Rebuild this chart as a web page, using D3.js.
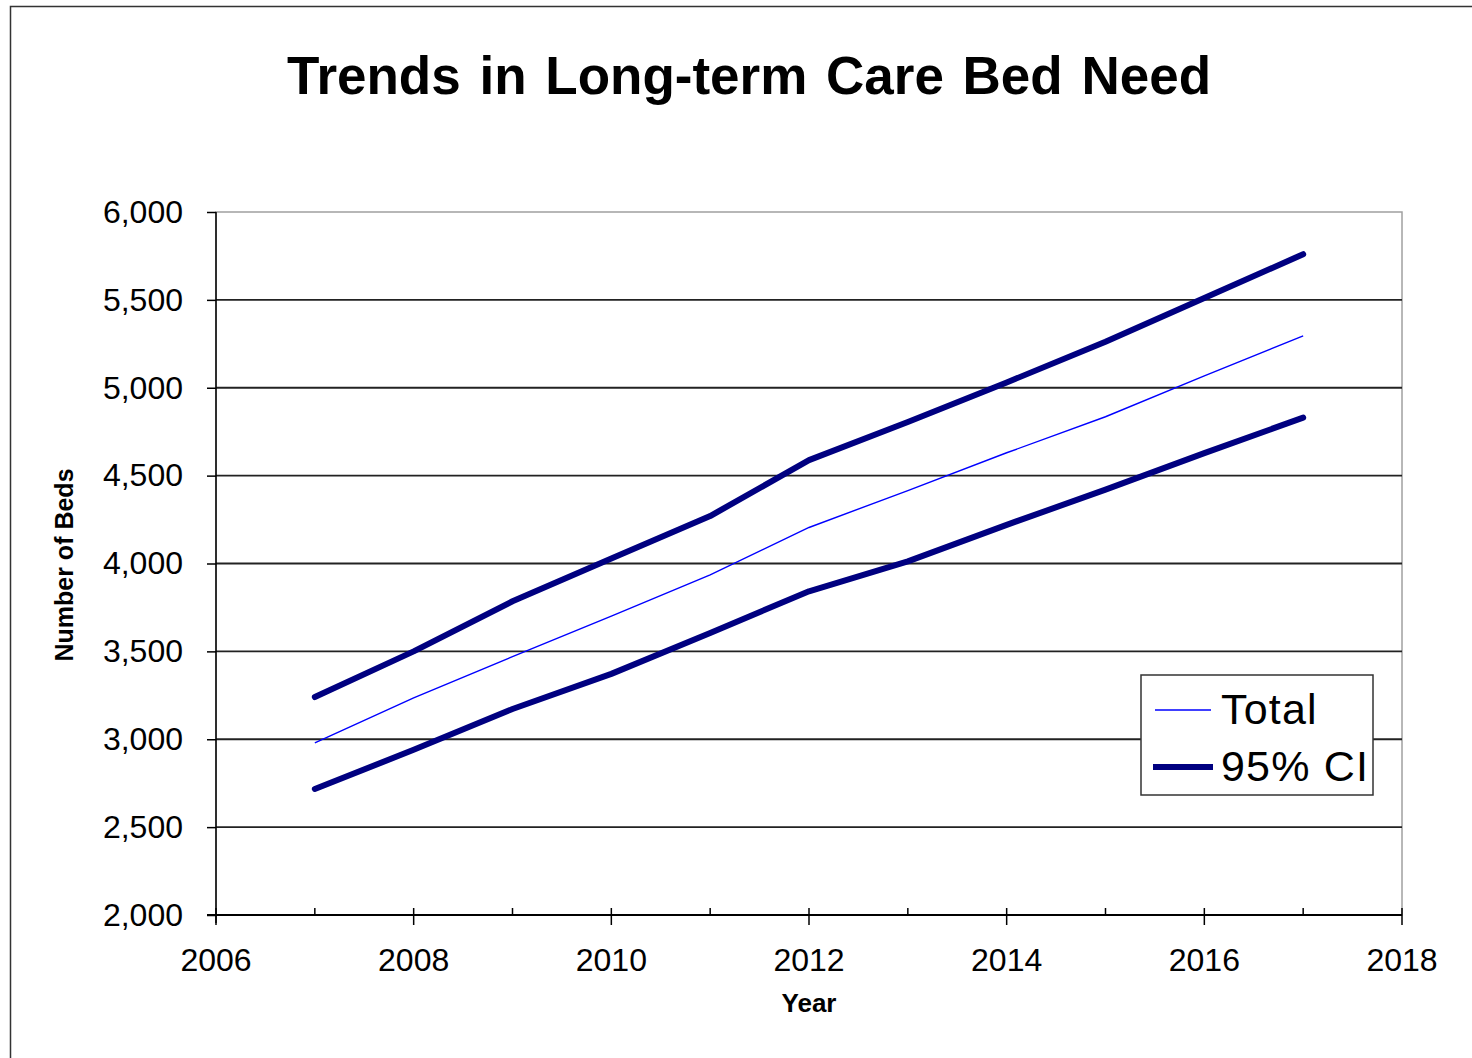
<!DOCTYPE html>
<html>
<head>
<meta charset="utf-8">
<script src="https://cdn.jsdelivr.net/npm/d3@7"></script>
<style>
  body { margin: 0; background: #fff; }
  svg { display: block; font-family: "Liberation Sans", Arial, sans-serif; }
</style>
</head>
<body>
<div id="chart"></div>
<script>
// values
var years = [2007, 2008, 2009, 2010, 2011, 2012, 2013, 2014, 2015, 2016, 2017];
var total = [2980, 3235, 3470, 3700, 3935, 4205, 4415, 4630, 4835, 5068, 5295];
var upperCI = [3240, 3500, 3785, 4028, 4270, 4588, 4805, 5030, 5262, 5510, 5760];
var lowerCI = [2717, 2940, 3172, 3372, 3605, 3842, 4012, 4220, 4420, 4628, 4830];
var yTicks = [2000, 2500, 3000, 3500, 4000, 4500, 5000, 5500, 6000];
var xTicks = [2006, 2008, 2010, 2012, 2014, 2016, 2018];
var xMinor = [2007, 2009, 2011, 2013, 2015, 2017];

var W = 1472, H = 1058;
var plot = {left: 216, right: 1402, top: 212, bottom: 915};

var svg = d3.select('#chart').append('svg')
  .attr('width', W).attr('height', H);

// outer chart border
svg.append('rect')
  .attr('x', 10.5).attr('y', 6.5)
  .attr('width', W + 20).attr('height', H + 20)
  .attr('fill', '#fff').attr('stroke', '#333').attr('stroke-width', 1.5);

var x = d3.scaleLinear().domain([2006, 2018]).range([plot.left, plot.right]);
var y = d3.scaleLinear().domain([2000, 6000]).range([plot.bottom, plot.top]);

// plot area frame (top/right gray)
svg.append('rect')
  .attr('x', plot.left).attr('y', plot.top)
  .attr('width', plot.right - plot.left).attr('height', plot.bottom - plot.top)
  .attr('fill', 'none').attr('stroke', '#a0a0a0').attr('stroke-width', 1.5);

// gridlines
svg.append('g')
  .selectAll('line')
  .data(yTicks.filter(function(d){ return d > 2000 && d < 6000; }))
  .enter().append('line')
  .attr('x1', plot.left).attr('x2', plot.right)
  .attr('y1', function(d){ return y(d); })
  .attr('y2', function(d){ return y(d); })
  .attr('stroke', '#222').attr('stroke-width', 1.8);

// y axis
var yAxis = d3.axisLeft(y).tickValues(yTicks).tickSize(9).tickPadding(24)
  .tickFormat(d3.format(','));
var gy = svg.append('g').attr('transform', 'translate(' + plot.left + ',0)').call(yAxis);
gy.select('.domain').remove();
gy.append('line').attr('x1', 0).attr('x2', 0)
  .attr('y1', plot.top).attr('y2', plot.bottom + 8)
  .attr('stroke', '#000').attr('stroke-width', 1.5);
gy.selectAll('.tick line').attr('stroke', '#000').attr('stroke-width', 1.5);
gy.selectAll('.tick text')
  .attr('font-size', 32).attr('fill', '#000')
  .attr('font-family', '"Liberation Sans", Arial, sans-serif');

// x axis
var gx = svg.append('g').attr('transform', 'translate(0,' + plot.bottom + ')');
gx.append('line').attr('x1', plot.left - 9).attr('x2', plot.right)
  .attr('y1', 0).attr('y2', 0)
  .attr('stroke', '#000').attr('stroke-width', 2);
gx.selectAll('line.major').data(xTicks).enter().append('line')
  .attr('class', 'major')
  .attr('x1', function(d){ return x(d); }).attr('x2', function(d){ return x(d); })
  .attr('y1', -7).attr('y2', 10)
  .attr('stroke', '#000').attr('stroke-width', 1.5);
gx.selectAll('line.minor').data(xMinor).enter().append('line')
  .attr('class', 'minor')
  .attr('x1', function(d){ return x(d); }).attr('x2', function(d){ return x(d); })
  .attr('y1', -7).attr('y2', 0)
  .attr('stroke', '#000').attr('stroke-width', 1.5);
gx.selectAll('text').data(xTicks).enter().append('text')
  .attr('x', function(d){ return x(d); })
  .attr('y', 56)
  .attr('text-anchor', 'middle')
  .attr('font-size', 32)
  .text(function(d){ return d; });

// series
var line = d3.line()
  .x(function(d, i){ return x(years[i]); })
  .y(function(d){ return y(d); });

[upperCI, lowerCI].forEach(function(s){
  svg.append('path').datum(s)
    .attr('d', line)
    .attr('fill', 'none')
    .attr('stroke', '#000080')
    .attr('stroke-width', 6)
    .attr('stroke-linejoin', 'round')
    .attr('stroke-linecap', 'round');
});
svg.append('path').datum(total)
  .attr('d', line)
  .attr('fill', 'none')
  .attr('stroke', '#0000ff')
  .attr('stroke-width', 1.4);

// title and axis titles
svg.append('text')
  .attr('x', 749).attr('y', 94)
  .attr('text-anchor', 'middle')
  .attr('font-size', 53).attr('font-weight', 'bold')
  .attr('word-spacing', 4)
  .text('Trends in Long-term Care Bed Need');

svg.append('text')
  .attr('x', 809).attr('y', 1012)
  .attr('text-anchor', 'middle')
  .attr('font-size', 26).attr('font-weight', 'bold')
  .text('Year');

svg.append('text')
  .attr('transform', 'translate(73,565) rotate(-90)')
  .attr('text-anchor', 'middle')
  .attr('font-size', 25).attr('font-weight', 'bold')
  .text('Number of Beds');

// legend
var legend = svg.append('g');
legend.append('rect')
  .attr('x', 1141).attr('y', 675).attr('width', 232).attr('height', 120)
  .attr('fill', '#fff').attr('stroke', '#333').attr('stroke-width', 1.5);
var items = [
  {label: 'Total', color: '#0000ff', width: 1.4, yy: 710, x1: 1155, x2: 1211},
  {label: '95% CI', color: '#000080', width: 6, yy: 767, x1: 1153, x2: 1213}
];
items.forEach(function(it){
  legend.append('line')
    .attr('x1', it.x1).attr('x2', it.x2)
    .attr('y1', it.yy).attr('y2', it.yy)
    .attr('stroke', it.color).attr('stroke-width', it.width);
  legend.append('text')
    .attr('x', 1221).attr('y', it.yy + 14)
    .attr('font-size', 43)
    .attr('letter-spacing', 1.2)
    .text(it.label);
});
</script>
</body>
</html>
